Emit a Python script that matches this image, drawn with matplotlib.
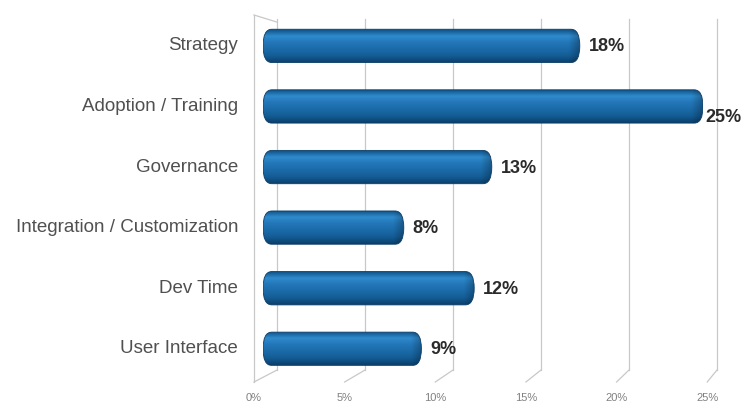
import matplotlib
matplotlib.use("Agg")
import matplotlib.pyplot as plt
import numpy as np
from matplotlib.patches import FancyBboxPatch
from matplotlib.colors import LinearSegmentedColormap
from matplotlib.transforms import blended_transform_factory

plt.rcParams['font.family'] = ['Liberation Sans', 'DejaVu Sans']

categories = ["Strategy", "Adoption / Training", "Governance",
              "Integration / Customization", "Dev Time", "User Interface"]
values = [18, 25, 13, 8, 12, 9]
ticks = [0, 5, 10, 15, 20, 25]
tick_labels = ["0%", "5%", "10%", "15%", "20%", "25%"]

W, H = 753, 408
fig = plt.figure(figsize=(W / 100, H / 100), dpi=100)
# axes placed in pixels: x 0..25 -> 263..703, rows centred every ~60 px
ax = fig.add_axes([263 / W, 38 / H, 440 / W, 355 / H])
ax.set_xlim(0, 25)
ax.set_ylim(5.35, -0.51)
ax.axis("off")

px_x = 440 / 25.0          # pixels per percent
back = 14 / px_x           # back wall shift (data units)
front = -9 / px_x          # front floor edge shift
drop = -12 / 355           # floor depth in axes fraction

gcol = "#c8c8c8"
bt = blended_transform_factory(ax.transData, ax.transAxes)
for t, lab in zip(ticks, tick_labels):
    ax.plot([t + back, t + back], [0, 0.99], color=gcol, lw=0.9, transform=bt,
            clip_on=False, zorder=1)
    xf = t + front + t * 0.03
    ax.plot([t + back, xf], [0, drop], color=gcol, lw=0.9, transform=bt,
            clip_on=False, zorder=1)
    ax.text(xf, drop - 0.03, lab, transform=bt, ha="center", va="top",
            fontsize=8, color="#808080")

# left side wall
ax.plot([front, front], [drop, 1.0], color=gcol, lw=0.9, transform=bt,
        clip_on=False, zorder=1)
ax.plot([front, back], [1.0, 0.98], color=gcol, lw=0.9, transform=bt,
        clip_on=False, zorder=1)

cmap = LinearSegmentedColormap.from_list(
    "cyl", ["#0e4f85", "#2f8bcc", "#2276b8", "#1b6aa8", "#145c94", "#0a3f6c"])

h = 0.55
nx = 200
for i, (cat, v) in enumerate(zip(categories, values)):
    patch = FancyBboxPatch((0, i - h / 2), v, h,
                           boxstyle="round,pad=0,rounding_size=0.5",
                           mutation_aspect=0.55, facecolor="none",
                           edgecolor="#0b3c66", lw=0.6, zorder=3)
    ax.add_patch(patch)
    grad = np.linspace(0, 1, 64)[:, None] * np.ones((1, nx))
    rgba = cmap(grad)
    # darker rim at the right end cap
    xx = np.linspace(0, v, nx)
    shade = np.clip((xx - (v - 0.6)) / 0.6, 0, 1) * 0.25
    rgba[..., :3] *= (1 - shade)[None, :, None]
    im = ax.imshow(rgba, extent=(0, v, i + h / 2, i - h / 2), origin="upper",
                   aspect="auto", zorder=2, interpolation="bilinear")
    im.set_clip_path(patch)

    dy = 11 if v == max(values) else 1
    dx = 2 if v == max(values) else 9
    ax.annotate(f"{v}%", (v, i), xytext=(dx * 0.72, -dy * 0.72),
                textcoords="offset points", ha="left", va="center",
                fontsize=13, fontweight="bold", color="#2b2b2b",
                annotation_clip=False, zorder=4)
    ax.text(-25 / px_x, i, cat, ha="right", va="center", fontsize=13.5,
            color="#505050")

ax.set_xlim(0, 25)
ax.set_ylim(5.35, -0.51)

fig.savefig("out.png", dpi=100)
